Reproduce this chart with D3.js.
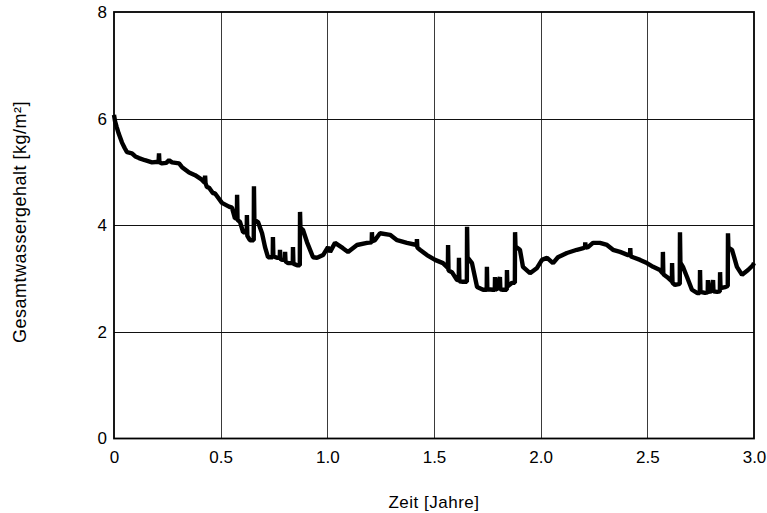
<!DOCTYPE html>
<html>
<head>
<meta charset="utf-8">
<script src="https://cdn.jsdelivr.net/npm/d3@7"></script>
<style>
  html, body { margin: 0; padding: 0; background: #fff; }
  svg { display: block; font-family: "Liberation Sans", Arial, sans-serif; }
</style>
</head>
<body>
<svg id="chart" width="767" height="513"></svg>
<script>
// Time in years and total water content in kg/m²
const zeit = [
  0, 0.005, 0.012, 0.022, 0.0375, 0.05, 0.061, 0.084, 0.10, 0.117, 0.145, 0.178,
  0.209, 0.211, 0.213, 0.225, 0.245, 0.258, 0.272, 0.305, 0.319, 0.352, 0.380, 0.410,
  0.425, 0.427, 0.429, 0.436, 0.445, 0.464, 0.473, 0.506, 0.539, 0.553, 0.567,
  0.576, 0.577, 0.579, 0.591, 0.605, 0.622, 0.623, 0.625, 0.637,
  0.655, 0.656, 0.658, 0.675, 0.694, 0.708, 0.722,
  0.744, 0.745, 0.747, 0.764, 0.777, 0.778, 0.780, 0.788, 0.801, 0.802, 0.804, 0.816,
  0.838, 0.839, 0.841, 0.858, 0.871, 0.872, 0.874, 0.886, 0.905, 0.933, 0.952, 0.980, 1.003,
  1.013, 1.036, 1.073, 1.097, 1.139, 1.186, 1.208, 1.209, 1.211, 1.223, 1.247, 1.294, 1.327, 1.373,
  1.419, 1.420, 1.422, 1.434, 1.467, 1.505, 1.542, 1.565, 1.566, 1.568, 1.584, 1.608,
  1.616, 1.617, 1.619, 1.636, 1.654, 1.655, 1.657, 1.678, 1.702, 1.730,
  1.747, 1.748, 1.750, 1.777, 1.785, 1.786, 1.788, 1.795, 1.809, 1.811, 1.823,
  1.841, 1.842, 1.844, 1.866, 1.879, 1.880, 1.882, 1.903, 1.917, 1.950, 1.983, 2.006, 2.030,
  2.058, 2.081, 2.123, 2.170, 2.200, 2.208, 2.209, 2.211, 2.222, 2.245, 2.278, 2.311, 2.339, 2.372,
  2.410, 2.419, 2.420, 2.422, 2.433, 2.466, 2.498, 2.527, 2.559, 2.572, 2.573, 2.575, 2.592,
  2.615, 2.616, 2.618, 2.630, 2.652, 2.653, 2.655, 2.667, 2.686, 2.709, 2.733,
  2.746, 2.747, 2.749, 2.770, 2.783, 2.784, 2.786, 2.800, 2.808, 2.810, 2.827,
  2.840, 2.841, 2.843, 2.864, 2.877, 2.878, 2.880, 2.897, 2.920, 2.944, 2.972, 2.995, 3.0
];
const wassergehalt = [
  6.07, 5.95, 5.85, 5.72, 5.55, 5.45, 5.37, 5.35, 5.29, 5.26, 5.22, 5.18,
  5.19, 5.35, 5.18, 5.16, 5.17, 5.22, 5.18, 5.16, 5.09, 4.99, 4.94, 4.86,
  4.80, 4.93, 4.79, 4.71, 4.71, 4.60, 4.60, 4.42, 4.35, 4.33, 4.13,
  4.13, 4.57, 4.10, 4.06, 3.87, 3.87, 4.19, 3.80, 3.72,
  3.72, 4.73, 4.10, 4.06, 3.85, 3.59, 3.40,
  3.40, 3.78, 3.42, 3.39, 3.39, 3.54, 3.37, 3.35, 3.35, 3.50, 3.32, 3.29,
  3.29, 3.59, 3.28, 3.25, 3.25, 4.25, 3.95, 3.91, 3.68, 3.40, 3.39, 3.44, 3.59,
  3.50, 3.67, 3.57, 3.50, 3.63, 3.67, 3.68, 3.87, 3.70, 3.72, 3.85, 3.82, 3.72, 3.67,
  3.63, 3.74, 3.58, 3.54, 3.44, 3.35, 3.29, 3.20, 3.63, 3.15, 3.12, 2.97,
  2.97, 3.39, 2.95, 2.94, 2.94, 3.97, 3.40, 3.29, 2.84, 2.79,
  2.79, 3.22, 2.80, 2.79, 2.79, 3.03, 2.80, 2.79, 3.03, 2.80, 2.79,
  2.79, 3.16, 2.85, 2.92, 2.92, 3.87, 3.60, 3.54, 3.22, 3.10, 3.20, 3.35, 3.39,
  3.29, 3.40, 3.48, 3.54, 3.57, 3.59, 3.68, 3.58, 3.59, 3.67, 3.67, 3.63, 3.54, 3.50,
  3.44, 3.44, 3.57, 3.42, 3.40, 3.35, 3.29, 3.22, 3.16, 3.10, 3.50, 3.08, 3.03,
  2.95, 3.29, 2.92, 2.88, 2.90, 3.87, 3.30, 3.22, 3.03, 2.79, 2.73,
  2.73, 3.16, 2.75, 2.73, 2.74, 2.97, 2.75, 2.76, 2.97, 2.76, 2.75,
  2.76, 3.12, 2.82, 2.84, 2.86, 3.85, 3.58, 3.54, 3.22, 3.07, 3.16, 3.25, 3.29
];
const xTicks = [0, 0.5, 1.0, 1.5, 2.0, 2.5, 3.0];
const xTickLabels = ["0", "0.5", "1.0", "1.5", "2.0", "2.5", "3.0"];
const yTicks = [0, 2, 4, 6, 8];
const xTitle = "Zeit [Jahre]";
const yTitle = "Gesamtwassergehalt [kg/m²]";

const svg = d3.select("#chart");
const margin = { left: 114, right: 13, top: 12, bottom: 74.5 };
const W = 767, H = 513;
const plotW = W - margin.left - margin.right;
const plotH = H - margin.top - margin.bottom;

const x = d3.scaleLinear().domain([0, 3]).range([margin.left, margin.left + plotW]);
const y = d3.scaleLinear().domain([0, 8]).range([margin.top + plotH, margin.top]);

// grid lines
const grid = svg.append("g");
grid.selectAll("line.vx").data(xTicks.slice(1, -1)).join("line")
  .attr("x1", d => Math.round(x(d)) + 0.5).attr("x2", d => Math.round(x(d)) + 0.5)
  .attr("y1", y(8)).attr("y2", y(0))
  .attr("stroke", "#3a3a3a").attr("stroke-width", 1);
grid.selectAll("line.hy").data(yTicks.slice(1, -1)).join("line")
  .attr("x1", x(0)).attr("x2", x(3))
  .attr("y1", d => Math.round(y(d)) + 0.5).attr("y2", d => Math.round(y(d)) + 0.5)
  .attr("stroke", "#111").attr("stroke-width", 1);

// axes with labels only (no tick marks)
const xAxis = d3.axisBottom(x).tickValues(xTicks)
  .tickFormat((d, i) => xTickLabels[i]).tickSize(0).tickPadding(12);
svg.append("g").attr("transform", `translate(0,${y(0)})`).call(xAxis)
  .call(g => g.select(".domain").remove())
  .selectAll("text").attr("font-size", 17).attr("fill", "#000")
  .attr("font-family", "Liberation Sans, Arial, sans-serif");

const yAxis = d3.axisLeft(y).tickValues(yTicks).tickFormat(d3.format("d"))
  .tickSize(0).tickPadding(7);
svg.append("g").attr("transform", `translate(${x(0)},0)`).call(yAxis)
  .call(g => g.select(".domain").remove())
  .selectAll("text").attr("font-size", 17).attr("fill", "#000")
  .attr("font-family", "Liberation Sans, Arial, sans-serif");

// plot frame
svg.append("rect")
  .attr("x", x(0)).attr("y", y(8))
  .attr("width", x(3) - x(0)).attr("height", y(0) - y(8))
  .attr("fill", "none").attr("stroke", "#000").attr("stroke-width", 1.8);

// data line
const pts = zeit.map((t, i) => [t, wassergehalt[i]]);
const line = d3.line().x(d => x(d[0])).y(d => y(d[1]));
svg.append("path")
  .datum(pts)
  .attr("d", line)
  .attr("fill", "none")
  .attr("stroke", "#000")
  .attr("stroke-width", 4.4)
  .attr("stroke-linejoin", "bevel");

// axis titles
svg.append("text")
  .attr("x", x(1.5)).attr("y", 508)
  .attr("text-anchor", "middle").attr("font-size", 17).attr("fill", "#000")
  .attr("letter-spacing", 0.5)
  .text(xTitle);
svg.append("text")
  .attr("transform", "translate(26,222) rotate(-90)")
  .attr("text-anchor", "middle").attr("font-size", 18).attr("fill", "#000")
  .attr("letter-spacing", 0.5)
  .text(yTitle);
</script>
</body>
</html>
